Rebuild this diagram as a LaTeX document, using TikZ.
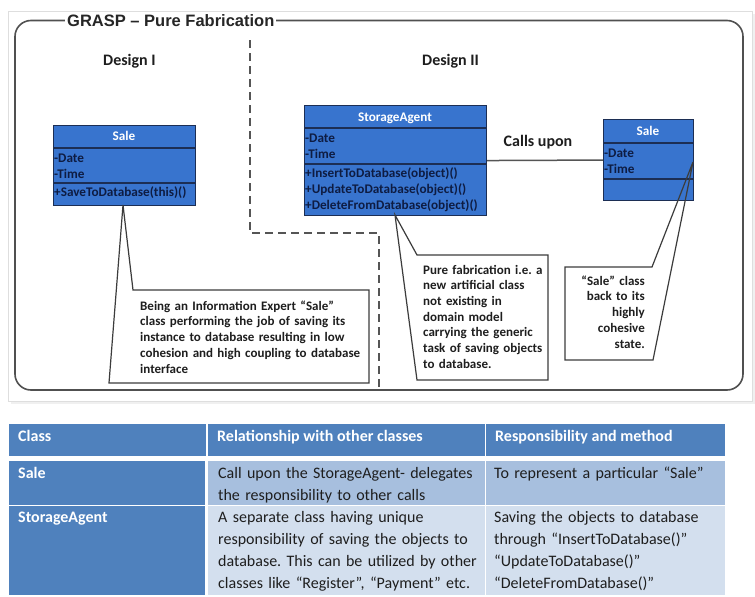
\documentclass[tikz,border=0pt]{standalone}
\usepackage{fontspec}
\setmainfont{Carlito}
\newfontfamily\arialf{Liberation Sans}
\newcommand\myfs[2]{\fontsize{#1}{#2}\selectfont}
\frenchspacing
\definecolor{clsblue}{RGB}{56,116,206}
\definecolor{clsborder}{RGB}{28,46,84}
\definecolor{attrcol}{RGB}{14,28,66}
\definecolor{framecol}{RGB}{80,80,80}
\definecolor{dashcol}{RGB}{85,85,85}
\definecolor{calloutcol}{RGB}{60,60,60}
\definecolor{textdark}{RGB}{30,30,30}
\definecolor{bordercol}{RGB}{222,222,222}
\definecolor{shadowcol}{RGB}{240,240,240}
\definecolor{tblhead}{RGB}{79,129,189}
\definecolor{tblrowA}{RGB}{167,191,222}
\definecolor{tblrowB}{RGB}{211,223,238}
\begin{document}
\begin{tikzpicture}[x=1pt,y=-1pt,
  cls/.style={draw=clsborder, fill=clsblue, line width=1.1pt, inner sep=0pt, anchor=north west},
  clsline/.style={draw=clsborder, line width=1.1pt},
  hdr/.style={text=white, font=\bfseries\myfs{13.2}{16}, inner sep=0pt, anchor=base},
  attr/.style={text=attrcol, font=\bfseries\myfs{13.2}{16}, inner sep=0pt, anchor=base west},
  callout/.style={draw=calloutcol, line width=1.2pt, line join=miter},
  ctext/.style={font=\bfseries\myfs{13}{15.8}, text=textdark, inner sep=0pt, text width=240pt, align=left, anchor=base west},
  ctextr/.style={font=\bfseries\myfs{13}{15.75}, text=textdark, inner sep=0pt, text width=100pt, align=right, anchor=base east},
  dlabel/.style={font=\bfseries\myfs{16}{19}, text=textdark, inner sep=0pt, anchor=base west},
  thead/.style={font=\bfseries\myfs{16}{22}, text=white, inner sep=0pt, anchor=base west},
  tbody/.style={font=\myfs{16}{22}, text=textdark, inner sep=0pt, text width=270pt, align=left, anchor=base west},
  tbodyb/.style={font=\bfseries\myfs{16}{22}, text=white, inner sep=0pt, anchor=base west}
]
\useasboundingbox (0,0) rectangle (755,597);
% image border with shadow
\fill[shadowcol] (11,14) rectangle (755,404);
\draw[draw=bordercol, fill=white, line width=1pt] (8,11) rectangle (752,401);
% main frame
\draw[draw=framecol, line width=1.6pt, rounded corners=16pt] (15,20.5) rectangle (743,390);
\node[font=\arialf\bfseries\myfs{16.5}{19}, text=black!85, fill=white, inner xsep=2pt, inner ysep=1pt, anchor=west] (title) at (65,20.5) {GRASP – Pure Fabrication};
% dashed separator
\draw[draw=dashcol, line width=1.5pt, dash pattern=on 8pt off 5pt] (250,40) -- (250,233) -- (379,233) -- (379,389);
% design labels
\node[dlabel] (d1) at (103,65) {Design I};
\node[dlabel] (d2) at (422,65) {Design II};
% Sale (Design I)
\node[cls, minimum width=142pt, minimum height=80pt] (sale1) at (53,125) {};
\draw[clsline] (53,148) -- (195,148);
\draw[clsline] (53,183) -- (195,183);
\node[hdr] (sale1h) at (124,140) {Sale};
\node[attr] (sale1a) at (54,162) {-Date};
\node[attr] (sale1b) at (54,178) {-Time};
\node[attr] (sale1m) at (54,196.5) {+SaveToDatabase(this)()};
% StorageAgent
\node[cls, minimum width=182pt, minimum height=110pt] (sa) at (304,105) {};
\draw[clsline] (304,128) -- (486,128);
\draw[clsline] (304,164) -- (486,164);
\node[hdr] (sah) at (395,121) {StorageAgent};
\node[attr] (saa) at (305,142) {-Date};
\node[attr] (sab) at (305,158) {-Time};
\node[attr] (sam1) at (305,177) {+InsertToDatabase(object)()};
\node[attr] (sam2) at (305,193) {+UpdateToDatabase(object)()};
\node[attr] (sam3) at (305,209) {+DeleteFromDatabase(object)()};
% Sale (Design II)
\node[cls, minimum width=90pt, minimum height=81pt] (sale2) at (603,119) {};
\draw[clsline] (603,143) -- (693,143);
\draw[clsline] (603,179) -- (693,179);
\node[hdr] (sale2h) at (648,135) {Sale};
\node[attr] (sale2a) at (604,157) {-Date};
\node[attr] (sale2b) at (604,173) {-Time};
% association
\draw[draw=dashcol, line width=1.5pt] (sa.east) -- (sale2.west);
\node[font=\bfseries\myfs{16}{19}, text=textdark, inner sep=0pt, anchor=base] (calls) at (538,146.5) {Calls upon};
% callouts
\draw[callout] (123,205) -- (133,290) -- (369,290) -- (369,383) -- (109,383) -- cycle;
\draw[callout] (395,215) -- (417,255) -- (548,255) -- (548,380) -- (417,380) -- cycle;
\draw[callout] (693,162) -- (652,267) -- (565,267) -- (565,360) -- (653,360) -- cycle;
\node[ctext] (c1) at (140,310) {Being an Information Expert “Sale”\\class performing the job of saving its\\instance to database resulting in low\\cohesion and high coupling to database\\interface};
\node[ctext, font=\bfseries\myfs{13}{15.7}] (c2) at (423,274) {Pure fabrication i.e. a\\new artificial class\\not existing in\\domain model\\carrying the generic\\task of saving objects\\to database.};
\node[ctextr] (c3) at (645,285) {“Sale” class\\back to its\\highly\\cohesive\\state.};
% table
\fill[tblhead] (9,424) rectangle (206,456);
\fill[tblhead] (207.5,424) rectangle (484.5,456);
\fill[tblhead] (486,424) rectangle (725,456);
\fill[tblhead] (9,461) rectangle (204.5,505);
\fill[tblrowA] (207.5,461) rectangle (484.5,505);
\fill[tblrowA] (486,461) rectangle (725,505);
\fill[tblhead] (9,506) rectangle (204.5,595);
\fill[tblrowB] (207.5,506) rectangle (484.5,595);
\fill[tblrowB] (486,506) rectangle (725,595);
\node[thead] (h1) at (18,441) {Class};
\node[thead] (h2) at (217,441) {Relationship with other classes};
\node[thead] (h3) at (495,441) {Responsibility and method};
\node[tbodyb] (r1c1) at (18,478) {Sale};
\node[tbody] (r1c2) at (218,478) {Call upon the StorageAgent- delegates\\the responsibility to other calls};
\node[tbody] (r1c3) at (494,478) {To represent a particular “Sale”};
\node[tbodyb] (r2c1) at (18,522.5) {StorageAgent};
\node[tbody] (r2c2) at (218,522.5) {A separate class having unique\\responsibility of saving the objects to\\database. This can be utilized by other\\classes like “Register”, “Payment” etc.};
\node[tbody] (r2c3) at (494,522.5) {Saving the objects to database\\through “InsertToDatabase()”\\“UpdateToDatabase()”\\“DeleteFromDatabase()”};
\end{tikzpicture}
\end{document}
